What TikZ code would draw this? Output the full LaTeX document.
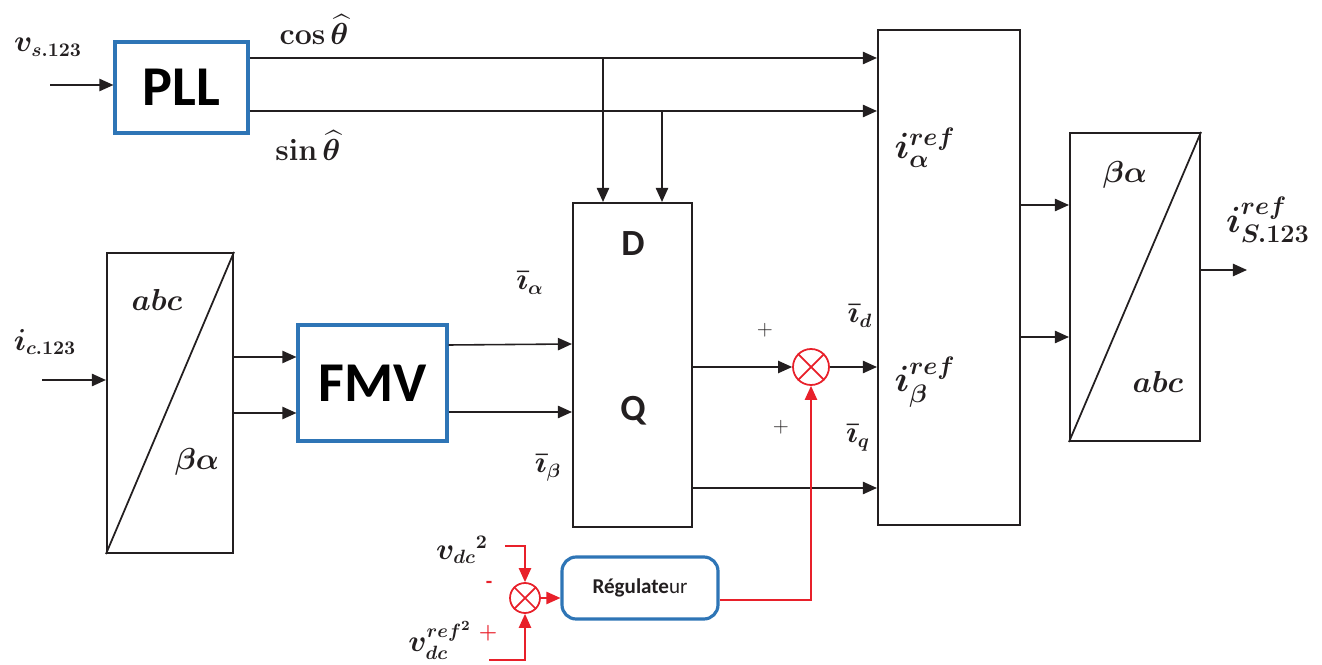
\documentclass[tikz,border=0pt]{standalone}
\usepackage{amsmath}
\usepackage{bm}
\usepackage[no-math]{fontspec}
\setmainfont{Carlito}
\usepackage{tikz}
\usetikzlibrary{arrows.meta}
\definecolor{blocblue}{RGB}{46,117,182}
\definecolor{sumred}{RGB}{232,32,42}
\definecolor{trait}{RGB}{35,31,32}

\begin{document}
\begin{tikzpicture}[x=0.02cm,y=-0.02cm,
	bloc/.style={draw=trait,line width=1.2pt,inner sep=0pt},
	blocb/.style={draw=blocblue,line width=1.8pt,inner sep=0pt,font=\fontsize{32}{32}\selectfont\bfseries},
	fl/.style={draw=trait,line width=0.9pt,-{Triangle[length=8pt,width=7pt]}},
	flr/.style={draw=sumred,line width=0.9pt,-{Triangle[length=8pt,width=7pt]}},
	somme/.style={circle,draw=sumred,line width=1pt,inner sep=0pt},
	lab/.style={text=trait,font=\fontsize{16}{16}\selectfont},
	labg/.style={text=trait,font=\fontsize{20}{20}\selectfont}]
	\useasboundingbox (0,0) rectangle (1322,665);
	
	% blocs
	\node[blocb,minimum width=2.66cm,minimum height=1.82cm] (PLL) at (181.5,87.5) {PLL};
	\node[bloc,minimum width=2.52cm,minimum height=6cm] (abc1) at (170,403) {};
	\node[blocb,minimum width=2.98cm,minimum height=2.32cm] (FMV) at (372.5,383) {FMV};
	\node[bloc,minimum width=2.38cm,minimum height=6.48cm] (DQ) at (632.5,365) {};
	\node[bloc,minimum width=2.84cm,minimum height=9.9cm] (big) at (949,277.5) {};
	\node[bloc,minimum width=2.6cm,minimum height=6.16cm] (abc2) at (1135,287) {};
	\node[draw=blocblue,line width=1.8pt,rounded corners=8pt,minimum width=3.12cm,minimum height=1.24cm,
		text=trait,font=\fontsize{12}{12}\selectfont] (reg) at (640,588) {\textbf{Régulate}ur};
	\node[somme,minimum size=0.72cm] (sum1) at (811,367) {};
	\node[somme,minimum size=0.6cm] (sum2) at (525,598) {};
	\draw[sumred,line width=1pt] (sum1.north east) -- (sum1.south west) (sum1.north west) -- (sum1.south east);
	\draw[sumred,line width=1pt] (sum2.north east) -- (sum2.south west) (sum2.north west) -- (sum2.south east);
	\draw[trait,line width=1pt] (abc1.south west) -- (abc1.north east);
	\draw[trait,line width=1pt] (abc2.south west) -- (abc2.north east);
	
	% textes
	\node[font=\fontsize{21}{21}\selectfont\bfseries,text=trait] (D) at (633,244) {D};
	\node[font=\fontsize{21}{21}\selectfont\bfseries,text=trait] (Q) at (633,411) {Q};
	\node[lab] (vs) at (48,47) {$\bm{v_{s.123}}$};
	\node[lab] (cos) at (314,30) {$\mathbf{cos}\,\bm{\widehat{\theta}}$};
	\node[lab] (sin) at (308,146) {$\mathbf{sin}\,\bm{\widehat{\theta}}$};
	\node[lab] (ic) at (45,342) {$\bm{i_{c.123}}$};
	\node[lab] (abcA) at (157,300) {$\bm{abc}$};
	\node[lab] (baA) at (197,462) {$\bm{\beta\alpha}$};
	\node[lab] (ia) at (530,283) {$\bm{\bar{\imath}_{\bm\alpha}}$};
	\node[lab] (ib) at (548,468) {$\bm{\bar{\imath}_{\bm\beta}}$};
	\node[lab] (id) at (860,316) {$\bm{\bar{\imath}_d}$};
	\node[lab] (iq) at (858,438) {$\bm{\bar{\imath}_q}$};
	\node[text=trait,font=\large] (p1) at (765,330) {$+$};
	\node[text=trait,font=\large] (p2) at (781,427) {$+$};
	\node[labg] (iaref) at (925,148) {$\bm{i_\alpha^{ref}}$};
	\node[labg] (ibref) at (925,382) {$\bm{i_\beta^{ref}}$};
	\node[lab] (baB) at (1125,175) {$\bm{\beta\alpha}$};
	\node[lab] (abcB) at (1158,382) {$\bm{abc}$};
	\node[labg] (isref) at (1268,220) {$\bm{i_{S.123}^{ref}}$};
	\node[lab] (vdc) at (462,550) {${\bm{v_{dc}}}{}^{\bm{2}}$};
	\node[lab] (vdcref) at (440,640) {$\bm{v_{dc}^{ref^{2}}}$};
	\node[text=sumred,font=\large\bfseries] (m3) at (489,585) {-};
	\node[text=sumred,font=\large] (p3) at (488,633) {$\bm{+}$};
	
	% liaisons
	\coordinate (vin) at (50,85);
	\coordinate (icin) at (42,380);
	\coordinate (tc) at (603,58);
	\coordinate (ts) at (662,111);
	\coordinate (out) at (1247,270);
	\coordinate (vd) at (505,546);
	\coordinate (vr) at (489,660);
	\draw[fl] (vin) -- (vin-|PLL.west);
	\draw[fl] (PLL.east|-tc) -- (big.west|-tc);
	\draw[fl] (PLL.east|-ts) -- (big.west|-ts);
	\draw[fl] (tc) -- (tc|-DQ.north);
	\draw[fl] (ts) -- (ts|-DQ.north);
	\draw[fl] (icin) -- (icin-|abc1.west);
	\draw[fl] (abc1.east|-0,357) -- (FMV.west|-0,357);
	\draw[fl] (abc1.east|-0,413) -- (FMV.west|-0,413);
	\draw[fl] (FMV.east|-0,345) -- (DQ.west|-0,344);
	\draw[fl] (FMV.east|-0,412) -- (DQ.west|-0,412);
	\draw[fl] (DQ.east|-sum1) -- (sum1.west);
	\draw[fl] (sum1.east) -- (big.west|-sum1);
	\draw[fl] (DQ.east|-0,488) -- (big.west|-0,488);
	\draw[fl] (big.east|-0,205) -- (abc2.west|-0,205);
	\draw[fl] (big.east|-0,337) -- (abc2.west|-0,337);
	\draw[fl] (out-|abc2.east) -- (out);
	% boucle de tension
	\draw[flr] (vd) -| (sum2.north);
	\draw[flr] (vr) -| (sum2.south);
	\draw[flr] (sum2.east) -- (sum2.east-|reg.west);
	\draw[flr] (reg.east|-0,600) -| (sum1.south);
\end{tikzpicture}
\end{document}
